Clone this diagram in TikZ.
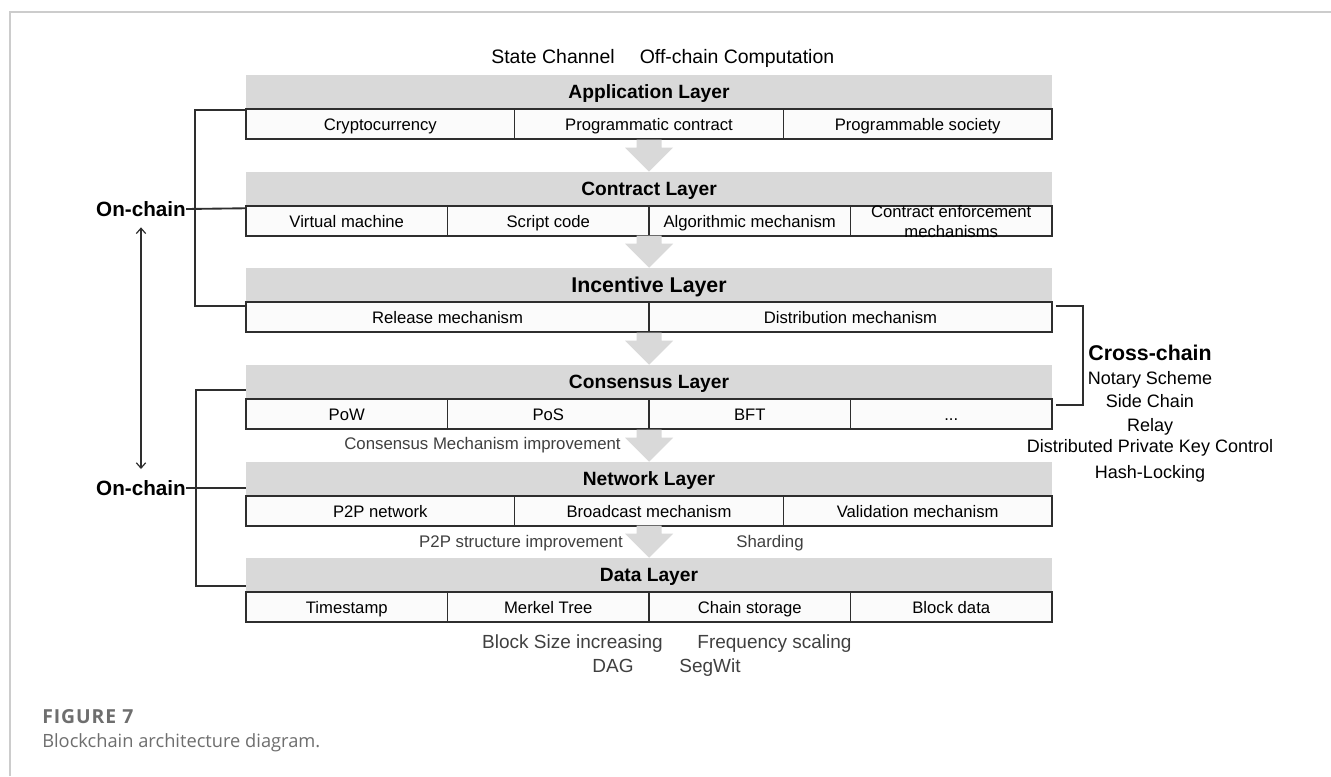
\documentclass[tikz,border=0pt]{standalone}
\usepackage{fontspec}
\setmainfont{Liberation Sans}
\newfontfamily\capfont{Open Sans}
\newfontfamily\capwide{Open Sans}[LetterSpace=5]
\usetikzlibrary{arrows.meta}
\definecolor{bandgray}{HTML}{D9D9D9}
\definecolor{rulecol}{HTML}{2E2E2E}
\definecolor{framecol}{HTML}{CCCCCC}
\definecolor{notecol}{HTML}{404040}
\definecolor{capcol}{HTML}{6E6E6E}
\definecolor{cellfill}{HTML}{FBFBFB}

\tikzset{
  capmid/.style={text height=#1, text depth=0pt},
  band/.style={fill=bandgray, minimum width=604.5pt, minimum height=25.5pt,
    inner sep=0pt, capmid=10.3pt, font=\fontsize{14.4}{16}\selectfont\bfseries},
  cellbox/.style={draw=rulecol, line width=1.1pt, fill=cellfill,
    minimum height=22.5pt, inner sep=0pt, capmid=9pt, font=\fontsize{12.5}{15}\selectfont},
  cthree/.style={cellbox, minimum width=201.5pt},
  cfour/.style={cellbox, minimum width=151.125pt},
  ctwo/.style={cellbox, minimum width=302.25pt},
  bracket/.style={draw=rulecol, line width=1.4pt},
  note/.style={inner sep=0pt, capmid=9pt, text=notecol, font=\fontsize{12.6}{15}\selectfont},
  bignote/.style={inner sep=0pt, capmid=10.2pt, text=notecol, font=\fontsize{14.25}{16}\selectfont},
  toptext/.style={inner sep=0pt, capmid=10.45pt, font=\fontsize{14.6}{16}\selectfont},
  chainlabel/.style={inner sep=0pt, capmid=11.1pt, font=\fontsize{15.5}{17}\selectfont\bfseries},
  crosstext/.style={inner sep=0pt, capmid=9.7pt, font=\fontsize{13.5}{15}\selectfont},
  blockarrow/.pic={\fill[bandgray] (-12.5,-32) -- (12.5,-32) -- (12.5,-24) -- (24,-24)
    -- (0,0) -- (-24,-24) -- (-12.5,-24) -- cycle;}
}

\begin{document}
\begin{tikzpicture}[x=0.75pt,y=-0.75pt]
\useasboundingbox (0,0) rectangle (1331,776);
\fill[white] (0,0) rectangle (1331,776);

% page frame
\draw[framecol, line width=1.5pt] (9.5,776) -- (9.5,12) -- (1331,12);

% off-chain headings
\node[toptext] (statech) at (553,57) {State Channel};
\node[toptext] (offchain) at (737,57) {Off-chain Computation};

% layer bands
\node[band] (appband) at (649,92) {Application Layer};
\node[band] (conband) at (649,189) {Contract Layer};
\node[band, capmid=11.5pt, font=\fontsize{16}{18}\selectfont\bfseries] (incband) at (649,285) {Incentive Layer};
\node[band] (cnsband) at (649,382) {Consensus Layer};
\node[band] (netband) at (649,479) {Network Layer};
\node[band] (datband) at (649,575) {Data Layer};

% application layer
\node[cthree] (app1) at (380.33,124) {Cryptocurrency};
\node[cthree] (app2) at (649,124) {Programmatic contract};
\node[cthree] (app3) at (917.67,124) {Programmable society};

% contract layer
\node[cfour] (con1) at (346.75,221) {Virtual machine};
\node[cfour] (con2) at (548.25,221) {Script code};
\node[cfour] (con3) at (749.75,221) {Algorithmic mechanism};
\node[cfour] (con4) at (951.25,221) {};
\node[inner sep=0pt, align=center, font=\fontsize{12.5}{15}\selectfont] (con4text) at (951.25,222)
  {Contract enforcement\\mechanisms};

% incentive layer
\node[ctwo] (inc1) at (447.5,317) {Release mechanism};
\node[ctwo] (inc2) at (850.5,317) {Distribution mechanism};

% consensus layer
\node[cfour] (cns1) at (346.75,414) {PoW};
\node[cfour] (cns2) at (548.25,414) {PoS};
\node[cfour] (cns3) at (749.75,414) {BFT};
\node[cfour] (cns4) at (951.25,414) {...};

% network layer
\node[cthree] (net1) at (380.33,511) {P2P network};
\node[cthree] (net2) at (649,511) {Broadcast mechanism};
\node[cthree] (net3) at (917.67,511) {Validation mechanism};

% data layer
\node[cfour] (dat1) at (346.75,607) {Timestamp};
\node[cfour] (dat2) at (548.25,607) {Merkel Tree};
\node[cfour] (dat3) at (749.75,607) {Chain storage};
\node[cfour] (dat4) at (951.25,607) {Block data};

% flow arrows between layers
\pic at (conband.north) {blockarrow};
\pic at (incband.north) {blockarrow};
\pic at (cnsband.north) {blockarrow};
\pic at (netband.north) {blockarrow};
\pic at (datband.north) {blockarrow};

% improvement notes
\node[note] (cnsnote) at (482.5,443) {Consensus Mechanism improvement};
\node[note] (netnote) at (521,541) {P2P structure improvement};
\node[note] (shard) at (770,541) {Sharding};
\node[bignote] (blocksize) at (572.5,642) {Block Size increasing};
\node[bignote] (freq) at (774.5,642) {Frequency scaling};
\node[bignote] (dag) at (613,666) {DAG};
\node[bignote] (segwit) at (710,666) {SegWit};

% on-chain groups
\node[chainlabel] (onchainA) at (141,209) {On-chain};
\node[chainlabel] (onchainB) at (141,488) {On-chain};

\draw[bracket] ([yshift=-1.5pt]app1.north west) -- ++(-50,0) |- ([yshift=-3.75pt]inc1.north west);
\draw[bracket] (onchainA.east) -- ([yshift=-2.25pt]con1.north west);
\draw[bracket] ([yshift=-6pt]cnsband.west) -- ++(-50,0) |- ([yshift=-8.25pt]datband.west);
\draw[bracket] (onchainB.east) -- ([yshift=-6.75pt]netband.west);

\draw[rulecol, line width=0.9pt, {Straight Barb[length=4pt,width=7pt]}-{Straight Barb[length=4pt,width=7pt]}]
  ([yshift=-8pt]onchainA.south) -- ([yshift=8.5pt]onchainB.north);

% cross-chain group
\draw[bracket] ([xshift=2.25pt,yshift=-3.75pt]inc2.north east) -- ++(27,0)
  |- ([xshift=2.25pt,yshift=-5.25pt]cns4.north east);
\node[inner sep=0pt, capmid=11.5pt, font=\fontsize{16}{18}\selectfont\bfseries] (cross) at (1150,353) {Cross-chain};
\node[crosstext] (notary) at (1150,378) {Notary Scheme};
\node[crosstext] (side) at (1150,401) {Side Chain};
\node[crosstext] (relay) at (1150,425) {Relay};
\node[crosstext] (dpkc) at (1150,446) {Distributed Private Key Control};
\node[crosstext] (hashlock) at (1150,472) {Hash-Locking};

% caption
\node[anchor=west, inner sep=0pt, capmid=10.2pt, text=capcol, font=\capwide\fontsize{14.5}{17}\selectfont\bfseries] (figno) at (42,717) {FIGURE 7};
\node[anchor=west, inner sep=0pt, capmid=9.6pt, text=capcol, font=\capfont\fontsize{13.7}{16}\selectfont] (figcap) at (42,741) {Blockchain architecture diagram.};
\end{tikzpicture}
\end{document}
